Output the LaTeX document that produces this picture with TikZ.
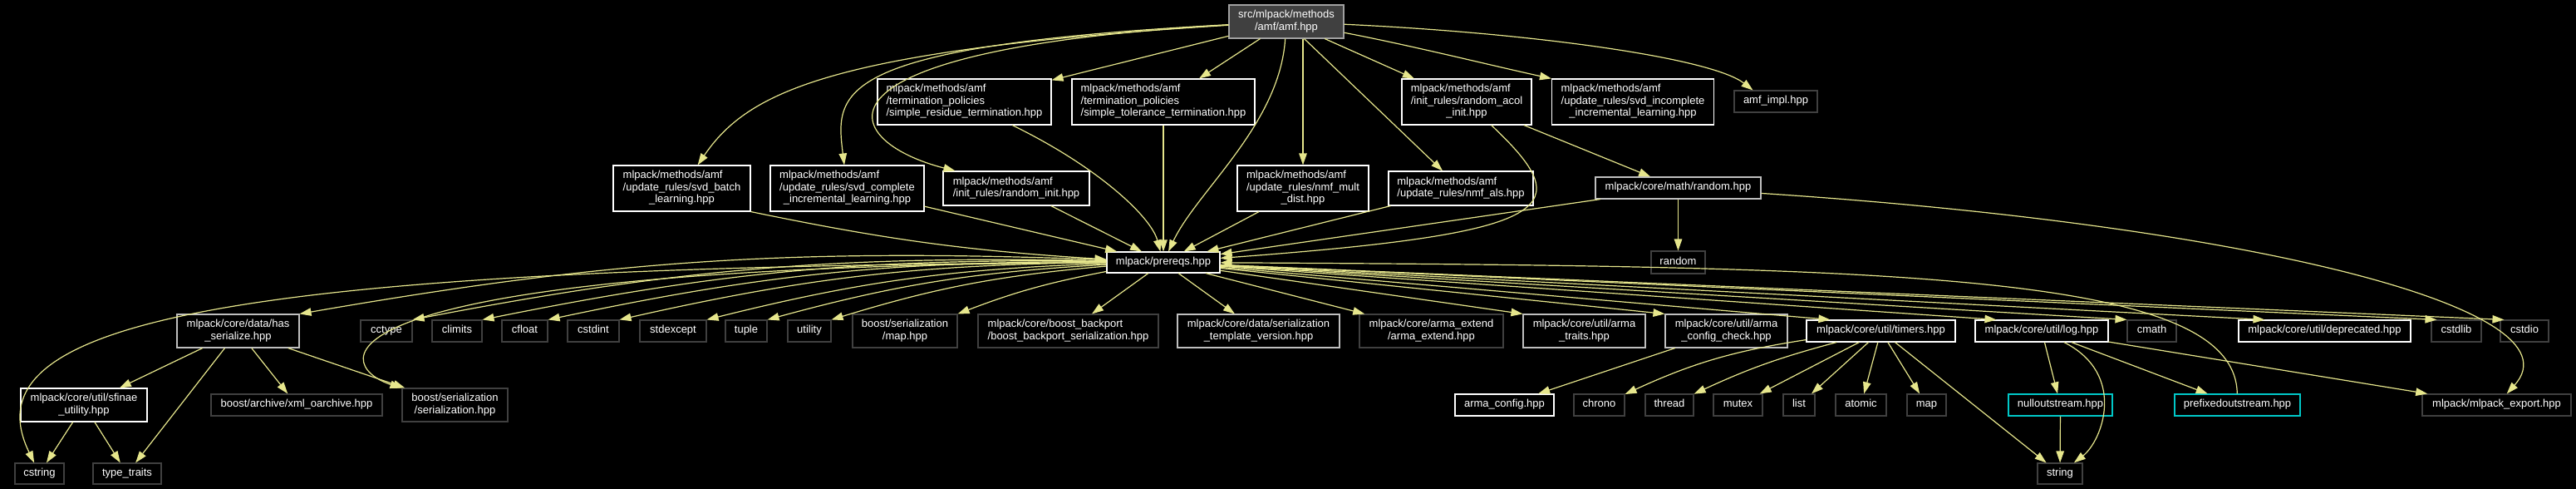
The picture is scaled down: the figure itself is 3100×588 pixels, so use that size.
\documentclass[tikz,border=0pt]{standalone}
\usepackage{fontspec}
\setmainfont{Liberation Sans}
\usetikzlibrary{arrows.meta}
\definecolor{edgec}{RGB}{230,230,140}
\definecolor{lgray}{RGB}{191,191,191}
\definecolor{dgray}{RGB}{64,64,64}
\definecolor{cyanb}{RGB}{0,200,200}
\definecolor{amffill}{RGB}{64,64,64}
\definecolor{amfdraw}{RGB}{160,160,160}
\newcommand\Cl[1]{\multicolumn{1}{@{}c@{}}{#1}}
\newcommand\tbl[2]{\begin{tabular}{@{}#1@{}}#2\end{tabular}}
\newcommand\one[1]{\begin{tabular}{@{}c@{}}#1\end{tabular}}
\tikzset{
  nd/.style={draw=white, fill=black, text=white, rectangle, inner sep=0pt,
    line width=1.1pt, font=\fontsize{13}{14.5}\selectfont},
  wb/.style={nd},
  gb/.style={nd, draw=lgray},
  db/.style={nd, draw=dgray},
  cb/.style={nd, draw=cyanb},
  sz/.style 2 args={minimum width=#1pt, minimum height=#2pt},
  e/.style={draw=edgec, line width=1.2pt, -{Triangle[length=14pt,width=9.5pt]}},
}
\begin{document}
\begin{tikzpicture}[x=1pt,y=1pt]
\fill[black] (0,0) rectangle (3100,-588);
\useasboundingbox (0,0) rectangle (3100,-588);

% row 0
\node[nd, fill=amffill, draw=amfdraw, sz={138}{40}] (amf) at (1548,-26) {\tbl{c}{src/mlpack/methods\\/amf/amf.hpp}};

% row 1
\node[wb, sz={209}{55}] (residue) at (1160.5,-122.5) {\tbl{l}{mlpack/methods/amf\\/termination\_policies\\/simple\_residue\_termination.hpp}};
\node[wb, sz={220}{55}] (tolerance) at (1400,-122.5) {\tbl{l}{mlpack/methods/amf\\/termination\_policies\\/simple\_tolerance\_termination.hpp}};
\node[wb, sz={156}{55}] (acol) at (1765,-122.5) {\tbl{l}{mlpack/methods/amf\\/init\_rules/random\_acol\\\Cl{\_init.hpp}}};
\node[wb, sz={195}{55}] (incomplete) at (1965,-122.5) {\tbl{l}{mlpack/methods/amf\\/update\_rules/svd\_incomplete\\\Cl{\_incremental\_learning.hpp}}};
\node[db, sz={100}{26}] (amfimpl) at (2137,-122) {\one{amf\_impl.hpp}};

% row 2
\node[wb, sz={165}{55}] (batch) at (820.5,-226.5) {\tbl{l}{mlpack/methods/amf\\/update\_rules/svd\_batch\\\Cl{\_learning.hpp}}};
\node[wb, sz={185}{55}] (complete) at (1019.5,-226.5) {\tbl{l}{mlpack/methods/amf\\/update\_rules/svd\_complete\\\Cl{\_incremental\_learning.hpp}}};
\node[wb, sz={176}{41}] (rinit) at (1223,-226.5) {\tbl{l}{mlpack/methods/amf\\/init\_rules/random\_init.hpp}};
\node[wb, sz={158}{55}] (mult) at (1568,-226.5) {\tbl{l}{mlpack/methods/amf\\/update\_rules/nmf\_mult\\\Cl{\_dist.hpp}}};
\node[wb, sz={174}{41}] (als) at (1758,-226.5) {\tbl{l}{mlpack/methods/amf\\/update\_rules/nmf\_als.hpp}};
\node[gb, sz={199}{26}] (randomhpp) at (2019.5,-226) {\one{mlpack/core/math/random.hpp}};

% row 3
\node[wb, sz={136}{25}] (prereqs) at (1400,-315.5) {\one{mlpack/prereqs.hpp}};
\node[db, sz={65}{27}] (random) at (2019.5,-315.5) {\one{random}};

% row 4
\node[gb, sz={147}{40}] (hasser) at (286.5,-398) {\tbl{c}{mlpack/core/data/has\\\_serialize.hpp}};
\node[db, sz={62}{26}] (cctype) at (465,-398) {\one{cctype}};
\node[db, sz={60}{26}] (climits) at (550,-398) {\one{climits}};
\node[db, sz={55}{26}] (cfloat) at (631.5,-398) {\one{cfloat}};
\node[db, sz={62}{26}] (cstdint) at (714,-398) {\one{cstdint}};
\node[db, sz={80}{26}] (stdexcept) at (810,-398) {\one{stdexcept}};
\node[db, sz={50}{26}] (tuple) at (898,-398) {\one{tuple}};
\node[db, sz={52}{26}] (utility) at (974,-398) {\one{utility}};
\node[db, sz={126}{40}] (bmap) at (1089,-398) {\tbl{c}{boost/serialization\\/map.hpp}};
\node[db, sz={217}{40}] (backport) at (1285.5,-398) {\tbl{l}{mlpack/core/boost\_backport\\/boost\_backport\_serialization.hpp}};
\node[gb, sz={195}{40}] (stv) at (1514.5,-398) {\tbl{c}{mlpack/core/data/serialization\\\_template\_version.hpp}};
\node[db, sz={173}{40}] (armaext) at (1722.5,-398) {\tbl{c}{mlpack/core/arma\_extend\\/arma\_extend.hpp}};
\node[gb, sz={147}{40}] (armatraits) at (1906.5,-398) {\tbl{c}{mlpack/core/util/arma\\\_traits.hpp}};
\node[gb, sz={147}{40}] (armacc) at (2077.5,-398) {\tbl{c}{mlpack/core/util/arma\\\_config\_check.hpp}};
\node[wb, sz={179}{26}] (timers) at (2263.5,-398) {\one{mlpack/core/util/timers.hpp}};
\node[wb, sz={160}{26}] (log) at (2457,-398) {\one{mlpack/core/util/log.hpp}};
\node[db, sz={59}{26}] (cmath) at (2589.5,-398) {\one{cmath}};
\node[wb, sz={207}{26}] (deprecated) at (2797.5,-398) {\one{mlpack/core/util/deprecated.hpp}};
\node[db, sz={60}{26}] (cstdlib) at (2956,-398) {\one{cstdlib}};
\node[db, sz={58}{26}] (cstdio) at (3038,-398) {\one{cstdio}};

% row 5
\node[wb, sz={152}{40}] (sfinae) at (101,-487) {\tbl{c}{mlpack/core/util/sfinae\\\_utility.hpp}};
\node[db, sz={206}{26}] (xmlo) at (357,-487) {\one{boost/archive/xml\_oarchive.hpp}};
\node[db, sz={127}{40}] (bser) at (547.5,-487) {\tbl{c}{boost/serialization\\/serialization.hpp}};
\node[wb, sz={119}{26}] (armaconfig) at (1810.5,-487) {\one{arma\_config.hpp}};
\node[db, sz={61}{26}] (chrono) at (1924.5,-487) {\one{chrono}};
\node[db, sz={58}{26}] (thread) at (2009,-487) {\one{thread}};
\node[db, sz={59}{26}] (mutex) at (2091.5,-487) {\one{mutex}};
\node[db, sz={38}{26}] (list) at (2165,-487) {\one{list}};
\node[db, sz={61}{26}] (atomic) at (2239.5,-487) {\one{atomic}};
\node[db, sz={47}{26}] (map) at (2318.5,-487) {\one{map}};
\node[cb, sz={125}{26}] (nullout) at (2479.5,-487) {\one{nulloutstream.hpp}};
\node[cb, sz={151}{26}] (prefixed) at (2692.5,-487) {\one{prefixedoutstream.hpp}};
\node[db, sz={179}{26}] (export) at (3004.5,-487) {\one{mlpack/mlpack\_export.hpp}};

% row 6
\node[db, sz={59}{25}] (cstring) at (47.5,-569.5) {\one{cstring}};
\node[db, sz={82}{25}] (typetraits) at (153,-569.5) {\one{type\_traits}};
\node[db, sz={54}{25}] (string) at (2479,-569.5) {\one{string}};

% edges from amf
\draw[e] (amf) .. controls (1000,-60) and (900,-110) .. (batch);
\draw[e] (amf) .. controls (1000,-55) and (1005,-110) .. (complete);
\draw[e] (amf) .. controls (950,-60) and (1010,-170) .. ([xshift=15pt]rinit.north west);
\draw[e] (amf) -- (residue);
\draw[e] (amf) -- (tolerance);
\draw[e] (amf) .. controls (1540,-150) and (1440,-230) .. (prereqs);
\draw[e] (amf.south -| mult.north) -- (mult.north);
\draw[e] (amf) -- (als);
\draw[e] (amf) -- (acol);
\draw[e] (amf) .. controls (1700,-55) and (1800,-80) .. (incomplete.north west);
\draw[e] (amf) .. controls (1850,-40) and (2060,-70) .. ([xshift=23pt]amfimpl.north west);

% into prereqs
\draw[e] (residue) .. controls (1320,-200) and (1385,-260) .. (prereqs);
\draw[e] (tolerance) -- (prereqs);
\draw[e] (batch.south east) to[bend right=4] (prereqs);
\draw[e] (complete) -- (prereqs);
\draw[e] (rinit) -- (prereqs);
\draw[e] (mult) -- (prereqs);
\draw[e] (als) -- (prereqs);
\draw[e] (acol) .. controls (1900,-250) and (1880,-280) .. (prereqs);
\draw[e] (acol) -- (randomhpp);
\draw[e] (randomhpp) -- (prereqs);
\draw[e] (randomhpp) -- (random);
\draw[e] (randomhpp) .. controls (2700,-270) and (3110,-370) .. (export);
\draw[e] (prefixed) .. controls (2690,-330) and (2300,-320) .. (prereqs);

% out of prereqs, left
\draw[e] (prereqs) .. controls (250,-320) and (-40,-390) .. (cstring);
\draw[e] (prereqs) to[bend right=6] (hasser.north east);
\draw[e] (prereqs) .. controls (350,-320) and (400,-440) .. (bser);
\foreach \n in {cctype,climits,cfloat,cstdint,stdexcept,tuple,utility}
  \draw[e] (prereqs) to[bend right=6] (\n.north east);
\draw[e] (prereqs) to[bend right=5] (bmap.north east);
\draw[e] (prereqs) -- (backport);
\draw[e] (prereqs) -- (stv);
\draw[e] (prereqs) -- (armaext);
% out of prereqs, right
\draw[e] (prereqs) -- (armatraits.north west);
\draw[e] (prereqs) -- (armacc.north west);
\draw[e] (prereqs) -- ([xshift=29pt]timers.north west);
\draw[e] (prereqs) -- ([xshift=26pt]log.north west);
\draw[e] (prereqs) -- (cmath.north west);
\draw[e] (prereqs) -- ([xshift=32pt]deprecated.north west);
\draw[e] (prereqs) -- ([xshift=7pt]cstdlib.north west);
\draw[e] (prereqs) -- ([xshift=5pt]cstdio.north west);

% lower edges
\draw[e] (hasser) -- (sfinae);
\draw[e] (hasser) -- (typetraits);
\draw[e] (hasser) -- (xmlo);
\draw[e] (hasser) -- (bser);
\draw[e] (sfinae) -- (cstring);
\draw[e] (sfinae) -- (typetraits);
\draw[e] (armacc) -- (armaconfig);
\draw[e] (timers) to[bend right=8] (chrono);
\draw[e] (timers) to[bend right=5] (thread);
\draw[e] (timers) -- (mutex);
\draw[e] (timers) -- (list);
\draw[e] (timers) -- (atomic);
\draw[e] (timers) -- (map);
\draw[e] (timers) -- (string);
\draw[e] (log) -- (nullout);
\draw[e] (log) .. controls (2560,-450) and (2530,-530) .. (string);
\draw[e] (log) -- (prefixed);
\draw[e] (log) -- (export);
\draw[e] (nullout) -- (string);
\end{tikzpicture}
\end{document}
